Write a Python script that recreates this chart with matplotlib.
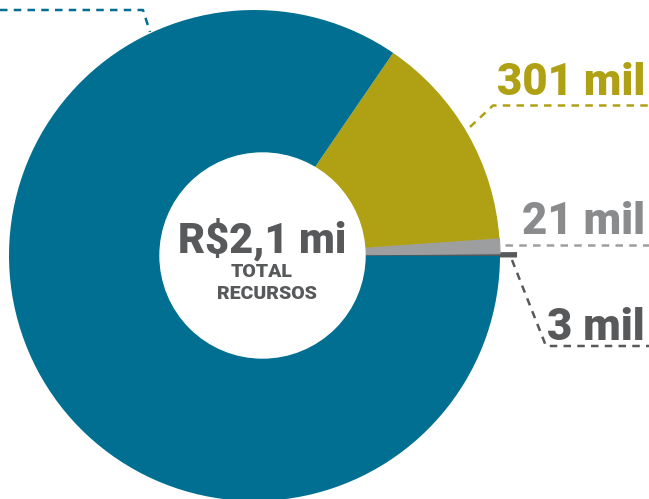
import matplotlib
matplotlib.use("Agg")
import matplotlib.pyplot as plt
from matplotlib.patches import Circle

# valores (mil R$)
labels = ["3 mil", "21 mil", "301 mil", ""]
values = [3, 21, 301, 1775]
colors = ["#58595b", "#9d9ea0", "#b0a014", "#006f91"]
label_colors = ["#58595b", "#8a8b8d", "#b0a014", "#006f91"]
total_text = "R$2,1 mi"
sub_text = ["TOTAL", "RECURSOS"]

W, H = 649, 499
plt.rcParams['font.family'] = ['Roboto', 'DejaVu Sans']

fig = plt.figure(figsize=(W / 100, H / 100), dpi=100)
ax = fig.add_axes([0, 0, 1, 1])


def Y(y):
    return H - y


cx, cy = 254.5, Y(255.5)
wedges, _ = ax.pie(values, colors=colors, startangle=-0.1, counterclock=True,
                   radius=245.5, center=(cx, cy))
# fatia minima destacada
wedges[0].set_radius(261)
wedges[0].set_edgecolor(colors[0])
wedges[0].set_linewidth(2.2)
wedges[1].set_edgecolor(colors[1])
wedges[1].set_linewidth(0.8)

# furo central
ax.add_patch(Circle((262.5, Y(255.5)), 102.5, color="white", zorder=5))

ax.text(262, Y(253), total_text, ha="center", va="baseline", fontsize=30,
        fontweight="black", color="#58595b", zorder=6)
ax.text(262, Y(277), sub_text[0], ha="center", va="baseline", fontsize=14,
        fontweight="black", color="#58595b", zorder=6)
ax.text(267, Y(299), sub_text[1], ha="center", va="baseline", fontsize=14,
        fontweight="black", color="#58595b", zorder=6)

# rótulos
ax.text(645, Y(95), labels[2], ha="right", va="baseline", fontsize=31.5,
        fontweight="black", color=label_colors[2])
ax.text(645, Y(234), labels[1], ha="right", va="baseline", fontsize=31.5,
        fontweight="black", color=label_colors[1])
ax.text(645, Y(340), labels[0], ha="right", va="baseline", fontsize=31.5,
        fontweight="black", color=label_colors[0])

dash = dict(linestyle=(0, (3, 2.5)), linewidth=1.8)
ax.plot([0, 143, 150], [Y(10), Y(10), Y(32)], color=colors[3], **dash)
ax.plot([470, 493, 649], [Y(127), Y(105.5), Y(105.5)], color=label_colors[2], **dash)
ax.plot([505, 649], [Y(245), Y(245)], color="#9d9ea0", **dash)
ax.plot([512, 546, 649], [Y(260), Y(346), Y(346)], color=colors[0], **dash)

ax.set_xlim(0, W)
ax.set_ylim(0, H)
ax.set_aspect("auto")
ax.axis("off")

fig.savefig("out.png", dpi=100)
